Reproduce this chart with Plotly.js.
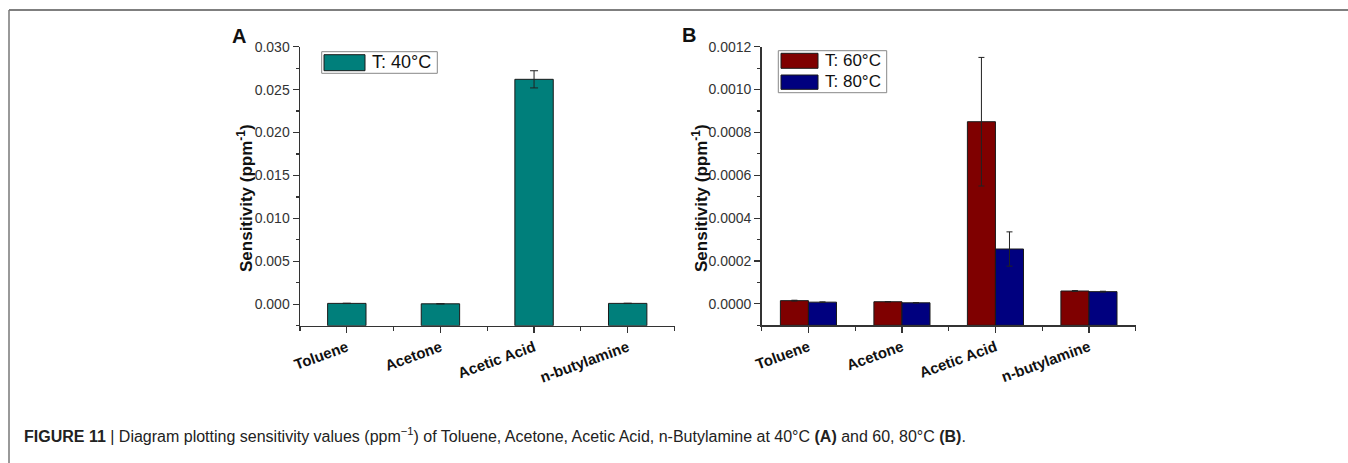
<!DOCTYPE html>
<html>
<head>
<meta charset="utf-8">
<script src="https://cdn.plot.ly/plotly-3.0.1.min.js"></script>
<style>html,body{margin:0;padding:0;background:#fff;}#chart{width:1348px;height:463px;}</style>
</head>
<body>
<div id="chart"></div>
<script>
// ---- data ----
const categories = ['Toluene', 'Acetone', 'Acetic Acid', 'n-butylamine'];
const seriesA = ['T: 40°C'];
const valuesA40 = [0.0001, 0.00005, 0.0262, 0.0001];
const errorsA40 = [0.00002, 0.00001, 0.001, 0.00002];
const seriesB = ['T: 60°C', 'T: 80°C'];
const valuesB60 = [0.000015, 0.00001, 0.00085, 0.00006];
const errorsB60 = [0.000002, 0.000001, 0.0003, 0.000002];
const valuesB80 = [0.000008, 0.000005, 0.000256, 0.000057];
const errorsB80 = [0.000001, 0.000001, 0.00008, 0.000002];
const yTicksA = [0, 0.005, 0.010, 0.015, 0.020, 0.025, 0.030];
const yTicksB = [0, 0.0002, 0.0004, 0.0006, 0.0008, 0.0010, 0.0012];
const yRangeA = [-0.0025, 0.030];
const yRangeB = [-0.0001, 0.0012];

// ---- helpers (pixel -> paper) ----
const W = 1348, H = 463;
const px = x => x / W;
const py = y => 1 - y / H;
const idx = categories.map((c, i) => i);
// bars are drawn up from the bottom of the axis (as in the original software)
const fromBase = (vals, base) => vals.map(v => v - base);

const FONT = 'Liberation Sans, Arial, sans-serif';
const colA = '#007F7B', colB60 = '#7F0000', colB80 = '#00007F';

const traces = [
  {type: 'bar', x: idx, y: fromBase(valuesA40, yRangeA[0]), base: yRangeA[0], name: seriesA[0], xaxis: 'x', yaxis: 'y', width: 0.41,
   marker: {color: colA, line: {color: '#1a1a1a', width: 1}},
   error_y: {type: 'data', array: errorsA40, visible: true, color: '#222', thickness: 1, width: 4}},
  {type: 'bar', x: idx, y: fromBase(valuesB60, yRangeB[0]), base: yRangeB[0], name: seriesB[0], xaxis: 'x2', yaxis: 'y2', width: 0.3, offset: -0.3,
   marker: {color: colB60, line: {color: '#1a1a1a', width: 1}},
   error_y: {type: 'data', array: errorsB60, visible: true, color: '#222', thickness: 1, width: 3}},
  {type: 'bar', x: idx, y: fromBase(valuesB80, yRangeB[0]), base: yRangeB[0], name: seriesB[1], xaxis: 'x2', yaxis: 'y2', width: 0.3, offset: 0,
   marker: {color: colB80, line: {color: '#1a1a1a', width: 1}},
   error_y: {type: 'data', array: errorsB80, visible: true, color: '#222', thickness: 1, width: 3}}
];

const xCommon = {
  range: [-0.5, 3.5], tickvals: idx, ticktext: categories, tickangle: -20,
  showline: true, linecolor: '#333', linewidth: 1.5, ticks: 'outside', ticklen: 6, tickwidth: 1.2, tickcolor: '#333',
  minor: {tick0: -0.5, dtick: 1, ticks: 'outside', ticklen: 4, tickwidth: 1.2, tickcolor: '#333'},
  showgrid: false, zeroline: false, fixedrange: true,
  tickfont: {family: FONT, size: 15, color: '#111', weight: 'bold'}
};
const yCommon = {
  showline: true, linecolor: '#333', linewidth: 1.5, ticks: 'outside', ticklen: 6, tickwidth: 1.2, tickcolor: '#333',
  showgrid: false, zeroline: false, fixedrange: true,
  tickfont: {family: FONT, size: 14, color: '#333'}
};

const layout = {
  width: W, height: H, autosize: false,
  margin: {l: 0, r: 0, t: 0, b: 0},
  paper_bgcolor: '#fff', plot_bgcolor: 'rgba(0,0,0,0)',
  showlegend: false, barmode: 'group',
  xaxis: Object.assign({}, xCommon, {domain: [px(300), px(674.5)], anchor: 'y'}),
  yaxis: Object.assign({}, yCommon, {domain: [py(325.7), py(46.7)], anchor: 'x',
    range: yRangeA, tickvals: yTicksA, tickformat: '.3f',
    minor: {dtick: 0.0025, tick0: 0, ticks: 'outside', ticklen: 3, tickwidth: 1.2, tickcolor: '#333'}}),
  xaxis2: Object.assign({}, xCommon, {domain: [px(761.7), px(1135.7)], anchor: 'y2'}),
  yaxis2: Object.assign({}, yCommon, {domain: [py(325.3), py(46.7)], anchor: 'x2',
    range: yRangeB, tickvals: yTicksB, tickformat: '.4f',
    minor: {dtick: 0.0001, tick0: 0, ticks: 'outside', ticklen: 3, tickwidth: 1.2, tickcolor: '#333'}}),
  shapes: [
    // figure frame
    {type: 'line', xref: 'paper', yref: 'paper', x0: px(9), x1: px(1348), y0: py(10), y1: py(10), line: {color: '#555', width: 1.5}},
    {type: 'line', xref: 'paper', yref: 'paper', x0: px(9), x1: px(9), y0: py(10), y1: py(463), line: {color: '#777', width: 1.5}},
    // legend A
    {type: 'rect', xref: 'paper', yref: 'paper', x0: px(321.7), x1: px(437.3), y0: py(73.3), y1: py(51.7), line: {color: '#888', width: 1}, fillcolor: '#fff'},
    {type: 'rect', xref: 'paper', yref: 'paper', x0: px(324), x1: px(365), y0: py(70.7), y1: py(54.7), line: {color: '#1a1a1a', width: 1}, fillcolor: colA},
    // legend B
    {type: 'rect', xref: 'paper', yref: 'paper', x0: px(778.3), x1: px(886.7), y0: py(92.7), y1: py(50.7), line: {color: '#888', width: 1}, fillcolor: '#fff'},
    {type: 'rect', xref: 'paper', yref: 'paper', x0: px(781), x1: px(818), y0: py(68.3), y1: py(53.3), line: {color: '#1a1a1a', width: 1}, fillcolor: colB60},
    {type: 'rect', xref: 'paper', yref: 'paper', x0: px(781), x1: px(818), y0: py(89.3), y1: py(75), line: {color: '#1a1a1a', width: 1}, fillcolor: colB80}
  ],
  annotations: [
    {xref: 'paper', yref: 'paper', x: px(370), y: py(62.5), xanchor: 'left', yanchor: 'middle', showarrow: false,
     text: seriesA[0], font: {family: FONT, size: 18, color: '#111'}},
    {xref: 'paper', yref: 'paper', x: px(823), y: py(60.8), xanchor: 'left', yanchor: 'middle', showarrow: false,
     text: seriesB[0], font: {family: FONT, size: 17, color: '#111'}},
    {xref: 'paper', yref: 'paper', x: px(823), y: py(82), xanchor: 'left', yanchor: 'middle', showarrow: false,
     text: seriesB[1], font: {family: FONT, size: 17, color: '#111'}},
    {xref: 'paper', yref: 'paper', x: px(245), y: py(198), xanchor: 'center', yanchor: 'middle', showarrow: false, textangle: -90,
     text: '<b>Sensitivity (ppm<sup>-1</sup>)</b>', font: {family: FONT, size: 17, color: '#111'}},
    {xref: 'paper', yref: 'paper', x: px(700), y: py(198), xanchor: 'center', yanchor: 'middle', showarrow: false, textangle: -90,
     text: '<b>Sensitivity (ppm<sup>-1</sup>)</b>', font: {family: FONT, size: 17, color: '#111'}},
    {xref: 'paper', yref: 'paper', x: px(239.5), y: py(36), xanchor: 'center', yanchor: 'middle', showarrow: false,
     text: '<b>A</b>', font: {family: FONT, size: 20, color: '#111'}},
    {xref: 'paper', yref: 'paper', x: px(689), y: py(35), xanchor: 'center', yanchor: 'middle', showarrow: false,
     text: '<b>B</b>', font: {family: FONT, size: 20, color: '#111'}},
    {xref: 'paper', yref: 'paper', x: px(22), y: py(435), xanchor: 'left', yanchor: 'middle', showarrow: false,
     text: '<b>FIGURE 11</b> | Diagram plotting sensitivity values (ppm<sup>−1</sup>) of Toluene, Acetone, Acetic Acid, n-Butylamine at 40°C <b>(A)</b> and 60, 80°C <b>(B)</b>.',
     font: {family: FONT, size: 16, color: '#222'}}
  ]
};

Plotly.newPlot('chart', traces, layout, {staticPlot: true, displayModeBar: false});
</script>
</body>
</html>
